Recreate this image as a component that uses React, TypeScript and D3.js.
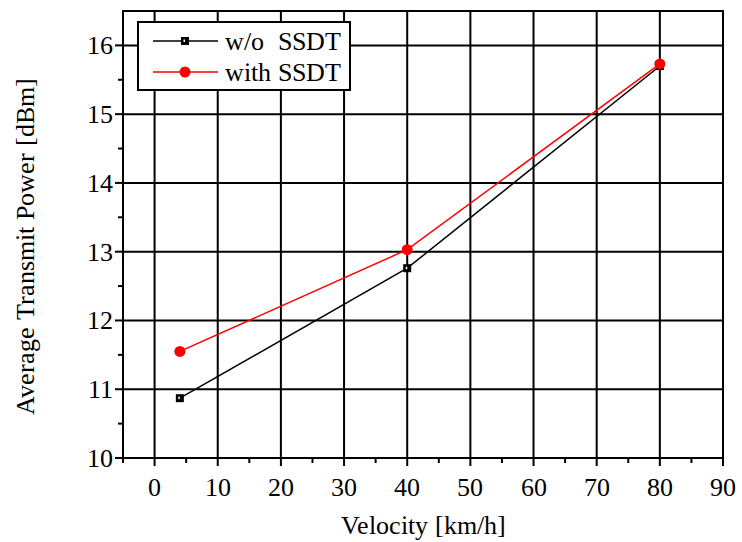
import React from "react";
import * as d3 from "d3";

const velocity = [4, 40, 80];
const withoutSSDT = [10.87, 12.76, 15.7];
const withSSDT = [11.55, 13.03, 15.73];
const xTicks = [0, 10, 20, 30, 40, 50, 60, 70, 80, 90];
const xMinor = [-5, 5, 15, 25, 35, 45, 55, 65, 75, 85];
const yTicks = [10, 11, 12, 13, 14, 15, 16];
const yMinor = [10.5, 11.5, 12.5, 13.5, 14.5, 15.5];

const css = `
@font-face { font-family: "ChartSerif"; src: local("Liberation Serif"), local("LiberationSerif"), local("Times New Roman"), local("Tinos"); }
svg.chart text { font-family: "ChartSerif", "Liberation Serif", "Times New Roman", Tinos, serif; font-size: 26px; }
`;

export default function App() {
  const W = 742, H = 542;
  const x = d3.scaleLinear().domain([-5, 90]).range([123, 723]);
  const y = d3.scaleLinear().domain([10, 16.5]).range([458, 11]);
  const line = d3.line<number>().x((_, i) => x(velocity[i])).y((d) => y(d));

  return (
    <div>
      <style>{css}</style>
      <svg className="chart" width={W} height={H} style={{ display: "block", position: "absolute", left: 0, top: 0, background: "#fff" }}>
        {xTicks.filter(t => t < 90).map(t => (
          <line key={"gx" + t} x1={x(t)} x2={x(t)} y1={y(10)} y2={y(16.5)} stroke="#000" strokeWidth={2} />
        ))}
        {yTicks.filter(t => t > 10).map(t => (
          <line key={"gy" + t} x1={x(-5)} x2={x(90)} y1={y(t)} y2={y(t)} stroke="#000" strokeWidth={2} />
        ))}
        <rect x={x(-5)} y={y(16.5)} width={x(90) - x(-5)} height={y(10) - y(16.5)} fill="none" stroke="#000" strokeWidth={2} />
        {xTicks.map(t => (
          <line key={"xt" + t} x1={x(t)} x2={x(t)} y1={y(10)} y2={y(10) + 8} stroke="#000" strokeWidth={2} />
        ))}
        {xMinor.map(t => (
          <line key={"xm" + t} x1={x(t)} x2={x(t)} y1={y(10)} y2={y(10) + 5} stroke="#000" strokeWidth={2} />
        ))}
        {xTicks.map(t => (
          <text key={"xl" + t} x={x(t)} y={y(10) + 38} textAnchor="middle">{t}</text>
        ))}
        {yTicks.map(t => (
          <line key={"yt" + t} x1={x(-5) - 8} x2={x(-5)} y1={y(t)} y2={y(t)} stroke="#000" strokeWidth={2} />
        ))}
        {yMinor.map(t => (
          <line key={"ym" + t} x1={x(-5) - 5} x2={x(-5)} y1={y(t)} y2={y(t)} stroke="#000" strokeWidth={2} />
        ))}
        {yTicks.map(t => (
          <text key={"yl" + t} x={x(-5) - 10} y={y(t) + 9} textAnchor="end">{t}</text>
        ))}
        <text x={(x(-5) + x(90)) / 2} y={534} textAnchor="middle">Velocity [km/h]</text>
        <text transform="translate(34,246) rotate(-90)" textAnchor="middle">Average Transmit Power [dBm]</text>
        <path d={line(withoutSSDT) || ""} fill="none" stroke="#000" strokeWidth={1.5} />
        <path d={line(withSSDT) || ""} fill="none" stroke="#ff0000" strokeWidth={1.5} />
        {withoutSSDT.map((v, i) => (
          <g key={"s1" + i}>
            <rect x={x(velocity[i]) - 4} y={y(v) - 4} width={8} height={8} fill="#000" />
            <rect x={x(velocity[i]) - 1.5} y={y(v) - 1.5} width={1.5} height={2.5} fill="#fff" />
          </g>
        ))}
        {withSSDT.map((v, i) => (
          <circle key={"s2" + i} cx={x(velocity[i])} cy={y(v)} r={5.5} fill="#ff0000" />
        ))}
        <rect x={138} y={22} width={212} height={68} fill="#fff" stroke="#000" strokeWidth={2} />
        <line x1={153} x2={218} y1={41} y2={41} stroke="#000" strokeWidth={1.5} />
        <rect x={181} y={37} width={8} height={8} fill="#000" />
        <rect x={183.5} y={39.5} width={1.5} height={2.5} fill="#fff" />
        <text x={225} y={50}>w/o&#160; SSDT</text>
        <line x1={153} x2={218} y1={72} y2={72} stroke="#ff0000" strokeWidth={1.5} />
        <circle cx={185} cy={72} r={5.5} fill="#ff0000" />
        <text x={225} y={81}>with SSDT</text>
      </svg>
    </div>
  );
}
